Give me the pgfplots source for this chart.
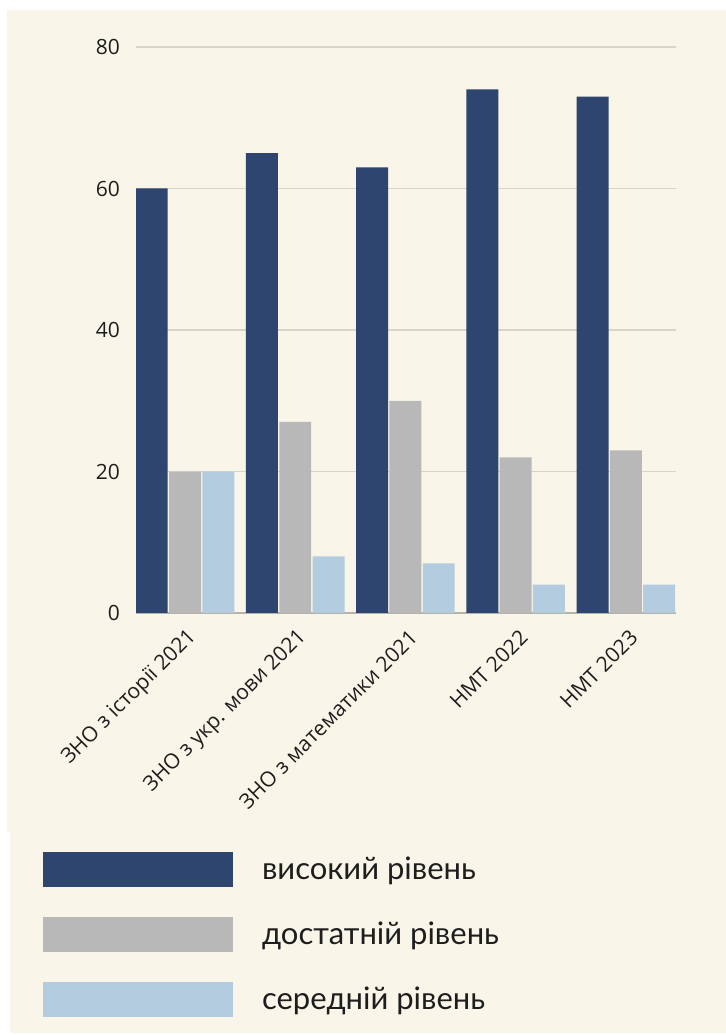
\documentclass[border=0pt]{standalone}
\usepackage{fontspec}
\setmainfont{Open Sans}
\newfontfamily\legfont{Lato}
\usepackage{pgfplots}
\pgfplotsset{compat=1.18}

\definecolor{cream}{HTML}{F9F5E8}
\definecolor{navy}{HTML}{2E4570}
\definecolor{midgray}{HTML}{B8B8B8}
\definecolor{paleblue}{HTML}{B4CCE0}
\definecolor{gridc}{HTML}{D8D4C6}
\definecolor{basec}{HTML}{B5B2A8}
\definecolor{txt}{HTML}{1E1E1E}

\begin{document}
\begin{tikzpicture}
  % white page with the two cream panels
  \fill[white] (0,0) rectangle (363bp,517.5bp);
  \fill[cream] (3.5bp,101.5bp) rectangle (363bp,512.5bp);
  \fill[cream] (5bp,1bp) rectangle (363bp,101.5bp);
  \begin{axis}[
      at={(68bp,211bp)}, anchor=south west,
      scale only axis, width=270bp, height=283bp,
      ybar, bar width=0.29,
      xmin=-0.445, xmax=4.455,
      ymin=0, ymax=80,
      ytick={0,20,40,60,80},
      xtick=data,
      xticklabels={ЗНО з історії 2021, ЗНО з укр. мови 2021, ЗНО з математики 2021, НМТ 2022, НМТ 2023},
      major tick length=0pt,
      axis x line*=bottom, axis y line*=left,
      x axis line style={draw=basec, line width=0.75bp, -},
      y axis line style={draw=none},
      ymajorgrids, grid style={gridc, line width=0.75bp},
      /pgf/number format/assume math mode=true,
      tick label style={text=txt, font=\fontsize{10.5bp}{12bp}\selectfont},
      yticklabel style={anchor=east, xshift=-4.5bp},
      xticklabel style={xshift=6.5bp, yshift=-8bp, rotate=45, anchor=east},
      legend image code/.code={\fill[#1] (0bp,-8.75bp) rectangle (95bp,8.75bp);},
      legend cell align=left,
      legend style={at={(-0.1722,-0.4223)}, anchor=north west,
        draw=none, fill=none, inner sep=0pt, outer sep=0pt,
        row sep=15bp, column sep=14.5bp,
        nodes={inner sep=0pt, text=txt},
        font=\legfont\fontsize{15.5bp}{18bp}\selectfont},
    ]
    \addplot[fill=navy, draw=none, bar shift=-0.302]
      coordinates {(0,60) (1,65) (2,63) (3,74) (4,73)};
    \addplot[fill=midgray, draw=none, bar shift=0]
      coordinates {(0,20) (1,27) (2,30) (3,22) (4,23)};
    \addplot[fill=paleblue, draw=none, bar shift=0.302]
      coordinates {(0,20) (1,8) (2,7) (3,4) (4,4)};
    \legend{високий рівень, достатній рівень, середній рівень}
  \end{axis}
\end{tikzpicture}
\end{document}
